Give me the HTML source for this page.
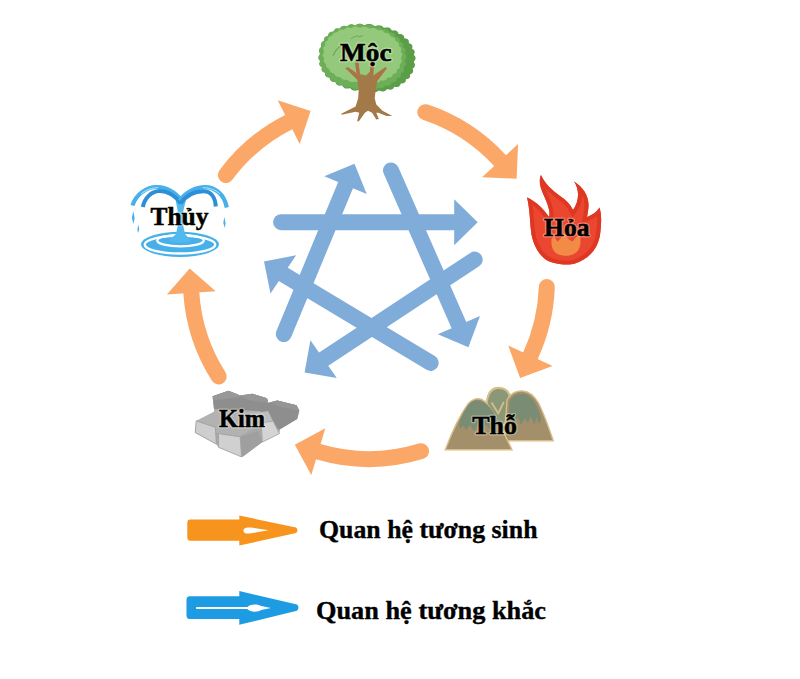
<!DOCTYPE html>
<html><head><meta charset="utf-8"><style>
html,body{margin:0;padding:0;background:#fff;}
body{width:800px;height:679px;overflow:hidden;}
svg{display:block;}
.lbl{font-family:"Liberation Serif",serif;font-weight:bold;fill:#000;stroke:#000;stroke-width:0.5px;}
.halo{font-family:"Liberation Serif",serif;font-weight:bold;fill:none;stroke:rgba(255,255,225,0.35);stroke-width:3px;stroke-linejoin:round;}
.leg{font-family:"Liberation Serif",serif;font-weight:bold;fill:#000;stroke:#000;stroke-width:0.35px;}
</style></head><body>
<svg width="800" height="679" viewBox="0 0 800 679">
<rect width="800" height="679" fill="#fff"/>
<path d="M225.9,175.0 A178.0,178.0 0 0 1 288.7,122.1" stroke="#FAA768" stroke-width="16" fill="none" stroke-linecap="round"/><polygon points="310.6,111.0 277.7,100.2 299.7,144.0" fill="#FAA768"/><path d="M425.3,112.2 A178.0,178.0 0 0 1 500.1,160.7" stroke="#FAA768" stroke-width="16" fill="none" stroke-linecap="round"/><polygon points="516.6,178.7 518.1,144.1 482.0,177.2" fill="#FAA768"/><path d="M546.8,287.0 A178.0,178.0 0 0 1 530.4,355.8" stroke="#FAA768" stroke-width="16" fill="none" stroke-linecap="round"/><polygon points="520.1,378.1 552.6,366.1 508.2,345.5" fill="#FAA768"/><path d="M421.1,451.2 A178.0,178.0 0 0 1 318.3,451.7" stroke="#FAA768" stroke-width="16" fill="none" stroke-linecap="round"/><polygon points="294.8,444.7 311.3,475.1 325.3,428.2" fill="#FAA768"/><path d="M218.7,376.5 A178.0,178.0 0 0 1 191.3,293.0" stroke="#FAA768" stroke-width="16" fill="none" stroke-linecap="round"/><polygon points="189.7,268.5 166.9,294.6 215.7,291.3" fill="#FAA768"/>
<line x1="281.1" y1="222.2" x2="456.2" y2="222.2" stroke="#80ACDA" stroke-width="16" stroke-linecap="round"/><polygon points="477.7,222.2 454.2,245.2 454.2,199.2" fill="#80ACDA"/><line x1="283.8" y1="334.0" x2="346.3" y2="183.4" stroke="#80ACDA" stroke-width="16" stroke-linecap="round"/><polygon points="354.5,163.8 366.7,194.1 324.3,176.3" fill="#80ACDA"/><line x1="391.0" y1="170.4" x2="459.7" y2="326.9" stroke="#80ACDA" stroke-width="16" stroke-linecap="round"/><polygon points="468.4,347.2 437.8,334.2 480.0,316.0" fill="#80ACDA"/><line x1="474.7" y1="259.6" x2="322.0" y2="360.2" stroke="#80ACDA" stroke-width="16" stroke-linecap="round"/><polygon points="304.6,372.4 310.4,340.3 336.8,377.9" fill="#80ACDA"/><line x1="430.7" y1="362.9" x2="281.6" y2="273.3" stroke="#80ACDA" stroke-width="16" stroke-linecap="round"/><polygon points="264.0,261.4 296.1,255.3 270.5,293.5" fill="#80ACDA"/>
<path d="M413.8,61.8 L414.4,62.9 L414.8,63.9 L415.0,64.9 L414.9,65.8 L414.6,66.6 L414.1,67.4 L413.4,68.0 L412.6,68.6 L412.9,69.6 L413.1,70.5 L413.1,71.4 L412.9,72.2 L412.5,72.9 L411.8,73.5 L410.9,74.0 L409.9,74.4 L410.1,75.3 L410.1,76.3 L409.9,77.1 L409.5,77.8 L408.9,78.4 L408.0,78.8 L407.0,79.1 L406.0,79.3 L405.9,80.3 L405.7,81.2 L405.3,82.0 L404.7,82.6 L404.0,83.1 L403.0,83.3 L401.9,83.5 L400.8,83.5 L400.5,84.4 L400.0,85.3 L399.5,86.0 L398.8,86.5 L397.9,86.9 L396.8,87.0 L395.7,86.9 L394.4,86.8 L393.9,87.6 L393.3,88.4 L392.6,89.1 L391.7,89.5 L390.7,89.7 L389.5,89.6 L388.4,89.4 L387.1,89.1 L386.4,89.9 L385.6,90.6 L384.7,91.1 L383.6,91.4 L382.5,91.5 L381.4,91.3 L380.1,90.9 L378.9,90.4 L378.0,91.1 L376.9,91.7 L375.9,92.1 L374.7,92.3 L373.5,92.2 L372.3,91.9 L371.0,91.3 L369.8,90.7 L368.5,91.3 L367.2,91.7 L365.9,92.0 L364.3,92.0 L362.7,91.7 L361.4,91.3 L360.2,90.6 L359.0,89.8 L357.7,90.3 L356.4,90.6 L355.1,90.7 L353.9,90.6 L352.8,90.3 L351.8,89.7 L350.9,89.0 L350.1,88.1 L348.8,88.4 L347.5,88.6 L346.3,88.6 L345.2,88.4 L344.3,87.9 L343.5,87.2 L342.8,86.4 L342.2,85.5 L340.9,85.6 L339.7,85.7 L338.6,85.5 L337.6,85.2 L336.8,84.6 L336.2,83.9 L335.7,83.0 L335.3,82.0 L334.1,82.0 L333.0,81.9 L331.9,81.6 L331.1,81.1 L330.5,80.5 L330.0,79.7 L329.8,78.7 L329.6,77.8 L328.5,77.6 L327.4,77.3 L326.5,76.9 L325.8,76.3 L325.4,75.6 L325.1,74.7 L325.1,73.8 L325.1,72.8 L324.1,72.5 L323.2,72.0 L322.4,71.5 L321.9,70.8 L321.6,70.0 L321.6,69.2 L321.7,68.2 L322.0,67.3 L321.1,66.8 L320.3,66.2 L319.7,65.5 L319.4,64.7 L319.3,63.9 L319.5,63.0 L319.8,62.1 L320.3,61.2 L319.6,60.5 L319.0,59.7 L318.6,58.9 L318.4,58.0 L318.5,57.1 L318.9,56.2 L319.5,55.3 L320.2,54.2 L319.6,53.1 L319.2,52.1 L319.0,51.1 L319.1,50.2 L319.4,49.4 L319.9,48.6 L320.6,48.0 L321.4,47.4 L321.1,46.4 L320.9,45.5 L320.9,44.6 L321.1,43.8 L321.5,43.1 L322.2,42.5 L323.1,42.0 L324.1,41.6 L323.9,40.7 L323.9,39.7 L324.1,38.9 L324.5,38.2 L325.1,37.6 L326.0,37.2 L327.0,36.9 L328.0,36.7 L328.1,35.7 L328.3,34.8 L328.7,34.0 L329.3,33.4 L330.0,32.9 L331.0,32.7 L332.1,32.5 L333.2,32.5 L333.5,31.6 L334.0,30.7 L334.5,30.0 L335.2,29.5 L336.1,29.1 L337.2,29.0 L338.3,29.1 L339.6,29.2 L340.1,28.4 L340.7,27.6 L341.4,26.9 L342.3,26.5 L343.3,26.3 L344.5,26.4 L345.6,26.6 L346.9,26.9 L347.6,26.1 L348.4,25.4 L349.3,24.9 L350.4,24.6 L351.5,24.5 L352.6,24.7 L353.9,25.1 L355.1,25.6 L356.0,24.9 L357.1,24.3 L358.1,23.9 L359.3,23.7 L360.5,23.8 L361.7,24.1 L363.0,24.7 L364.2,25.3 L365.5,24.7 L366.8,24.3 L368.1,24.0 L369.7,24.0 L371.3,24.3 L372.6,24.7 L373.8,25.4 L375.0,26.2 L376.3,25.7 L377.6,25.4 L378.9,25.3 L380.1,25.4 L381.2,25.7 L382.2,26.3 L383.1,27.0 L383.9,27.9 L385.2,27.6 L386.5,27.4 L387.7,27.4 L388.8,27.6 L389.7,28.1 L390.5,28.8 L391.2,29.6 L391.8,30.5 L393.1,30.4 L394.3,30.3 L395.4,30.5 L396.4,30.8 L397.2,31.4 L397.8,32.1 L398.3,33.0 L398.7,34.0 L399.9,34.0 L401.0,34.1 L402.1,34.4 L402.9,34.9 L403.5,35.5 L404.0,36.3 L404.2,37.3 L404.4,38.2 L405.5,38.4 L406.6,38.7 L407.5,39.1 L408.2,39.7 L408.6,40.4 L408.9,41.3 L408.9,42.2 L408.9,43.2 L409.9,43.5 L410.8,44.0 L411.6,44.5 L412.1,45.2 L412.4,46.0 L412.4,46.8 L412.3,47.8 L412.0,48.7 L412.9,49.2 L413.7,49.8 L414.3,50.5 L414.6,51.3 L414.7,52.1 L414.5,53.0 L414.2,53.9 L413.7,54.8 L414.4,55.5 L415.0,56.3 L415.4,57.1 L415.6,58.0 L415.5,58.9 L415.1,59.8 L414.5,60.7 L413.8,61.8Z" fill="#5C9D47"/><path d="M404.9,60.4 L405.3,61.5 L405.7,62.6 L405.9,63.6 L405.8,64.5 L405.6,65.3 L405.0,66.1 L404.3,66.8 L403.6,67.4 L403.8,68.4 L404.0,69.4 L404.0,70.3 L403.8,71.1 L403.3,71.8 L402.6,72.4 L401.8,72.9 L400.9,73.3 L400.9,74.2 L400.9,75.2 L400.7,76.0 L400.3,76.7 L399.7,77.3 L398.8,77.8 L397.9,78.1 L396.8,78.3 L396.7,79.2 L396.5,80.1 L396.1,80.9 L395.5,81.5 L394.7,82.0 L393.8,82.3 L392.7,82.4 L391.6,82.4 L391.2,83.3 L390.8,84.1 L390.2,84.8 L389.4,85.4 L388.5,85.7 L387.5,85.8 L386.4,85.7 L385.2,85.5 L384.6,86.4 L384.0,87.1 L383.2,87.7 L382.3,88.1 L381.3,88.3 L380.2,88.2 L379.0,88.0 L377.8,87.6 L377.1,88.4 L376.2,89.0 L375.2,89.5 L374.2,89.7 L373.1,89.8 L372.0,89.5 L370.8,89.1 L369.6,88.6 L368.6,89.2 L367.5,89.7 L366.4,90.1 L365.2,90.2 L364.0,90.0 L362.7,89.6 L361.4,89.1 L360.0,88.4 L358.5,88.8 L357.1,89.2 L355.8,89.4 L354.6,89.3 L353.4,89.0 L352.3,88.5 L351.4,87.9 L350.4,87.1 L349.2,87.4 L348.0,87.6 L346.8,87.6 L345.7,87.5 L344.7,87.1 L343.9,86.4 L343.1,85.7 L342.5,84.8 L341.2,85.0 L340.1,85.0 L339.0,84.9 L338.0,84.6 L337.2,84.0 L336.5,83.3 L336.0,82.5 L335.5,81.6 L334.4,81.5 L333.3,81.4 L332.3,81.2 L331.4,80.7 L330.8,80.1 L330.3,79.3 L330.0,78.4 L329.7,77.4 L328.6,77.2 L327.6,76.9 L326.7,76.5 L326.0,76.0 L325.6,75.3 L325.3,74.4 L325.2,73.5 L325.2,72.5 L324.2,72.2 L323.3,71.7 L322.6,71.1 L322.0,70.5 L321.8,69.7 L321.7,68.8 L321.8,67.9 L322.0,67.0 L321.2,66.4 L320.4,65.8 L319.9,65.1 L319.5,64.3 L319.4,63.5 L319.5,62.6 L319.9,61.7 L320.3,60.8 L319.6,60.0 L319.1,59.2 L318.7,58.4 L318.5,57.5 L318.6,56.6 L319.0,55.6 L319.5,54.7 L320.1,53.6 L319.7,52.5 L319.3,51.4 L319.1,50.4 L319.2,49.5 L319.4,48.7 L320.0,47.9 L320.7,47.2 L321.4,46.6 L321.2,45.6 L321.0,44.6 L321.0,43.7 L321.2,42.9 L321.7,42.2 L322.4,41.6 L323.2,41.1 L324.1,40.7 L324.1,39.8 L324.1,38.8 L324.3,38.0 L324.7,37.3 L325.3,36.7 L326.2,36.2 L327.1,35.9 L328.2,35.7 L328.3,34.8 L328.5,33.9 L328.9,33.1 L329.5,32.5 L330.3,32.0 L331.2,31.7 L332.3,31.6 L333.4,31.6 L333.8,30.7 L334.2,29.9 L334.8,29.2 L335.6,28.6 L336.5,28.3 L337.5,28.2 L338.6,28.3 L339.8,28.5 L340.4,27.6 L341.0,26.9 L341.8,26.3 L342.7,25.9 L343.7,25.7 L344.8,25.8 L346.0,26.0 L347.2,26.4 L347.9,25.6 L348.8,25.0 L349.8,24.5 L350.8,24.3 L351.9,24.2 L353.0,24.5 L354.2,24.9 L355.4,25.4 L356.4,24.8 L357.5,24.3 L358.6,23.9 L359.8,23.8 L361.0,24.0 L362.3,24.4 L363.6,24.9 L365.0,25.6 L366.5,25.2 L367.9,24.8 L369.2,24.6 L370.4,24.7 L371.6,25.0 L372.7,25.5 L373.6,26.1 L374.6,26.9 L375.8,26.6 L377.0,26.4 L378.2,26.4 L379.3,26.5 L380.3,26.9 L381.1,27.6 L381.9,28.3 L382.5,29.2 L383.8,29.0 L384.9,29.0 L386.0,29.1 L387.0,29.4 L387.8,30.0 L388.5,30.7 L389.0,31.5 L389.5,32.4 L390.6,32.5 L391.7,32.6 L392.7,32.8 L393.6,33.3 L394.2,33.9 L394.7,34.7 L395.0,35.6 L395.3,36.6 L396.4,36.8 L397.4,37.1 L398.3,37.5 L399.0,38.0 L399.4,38.7 L399.7,39.6 L399.8,40.5 L399.8,41.5 L400.8,41.8 L401.7,42.3 L402.4,42.9 L403.0,43.5 L403.2,44.3 L403.3,45.2 L403.2,46.1 L403.0,47.0 L403.8,47.6 L404.6,48.2 L405.1,48.9 L405.5,49.7 L405.6,50.5 L405.5,51.4 L405.1,52.3 L404.7,53.2 L405.4,54.0 L405.9,54.8 L406.3,55.6 L406.5,56.5 L406.4,57.4 L406.0,58.4 L405.5,59.3 L404.9,60.4Z" fill="#6DAE58"/><path d="M400.9,58.1 L401.3,59.1 L401.6,60.1 L401.7,60.9 L401.7,61.8 L401.4,62.6 L400.9,63.3 L400.3,63.9 L399.6,64.5 L399.8,65.3 L399.9,66.2 L399.9,67.0 L399.6,67.7 L399.2,68.4 L398.5,68.9 L397.8,69.3 L396.9,69.7 L396.9,70.6 L396.8,71.4 L396.5,72.2 L396.1,72.8 L395.5,73.3 L394.7,73.7 L393.8,74.0 L392.8,74.1 L392.6,75.0 L392.3,75.8 L391.8,76.5 L391.2,77.0 L390.5,77.4 L389.5,77.6 L388.5,77.7 L387.5,77.7 L387.0,78.5 L386.5,79.2 L385.9,79.8 L385.1,80.2 L384.2,80.5 L383.2,80.5 L382.1,80.4 L381.0,80.3 L380.4,81.0 L379.7,81.6 L378.8,82.1 L377.9,82.4 L376.9,82.5 L375.9,82.4 L374.8,82.1 L373.6,81.8 L372.8,82.4 L371.8,82.9 L370.8,83.2 L369.8,83.4 L368.7,83.4 L367.6,83.1 L366.4,82.7 L365.3,82.2 L364.2,82.6 L363.0,83.0 L361.7,83.2 L360.2,83.2 L358.8,83.0 L357.6,82.6 L356.5,82.0 L355.4,81.4 L354.2,81.7 L353.0,81.9 L351.9,82.0 L350.8,81.9 L349.8,81.6 L348.8,81.0 L348.0,80.4 L347.2,79.7 L346.1,79.8 L344.9,79.9 L343.9,79.8 L342.9,79.6 L342.1,79.1 L341.3,78.5 L340.7,77.8 L340.2,77.0 L339.1,77.0 L338.0,76.9 L337.0,76.7 L336.2,76.3 L335.5,75.8 L334.9,75.1 L334.5,74.3 L334.2,73.4 L333.2,73.3 L332.2,73.0 L331.3,72.6 L330.6,72.1 L330.1,71.5 L329.8,70.8 L329.6,69.9 L329.5,69.1 L328.6,68.7 L327.7,68.3 L327.0,67.8 L326.5,67.2 L326.2,66.5 L326.0,65.7 L326.1,64.9 L326.2,64.0 L325.4,63.5 L324.7,63.0 L324.2,62.4 L323.8,61.7 L323.7,60.9 L323.8,60.1 L324.0,59.3 L324.4,58.4 L323.8,57.8 L323.2,57.0 L322.9,56.3 L322.7,55.5 L322.8,54.6 L323.1,53.8 L323.6,52.9 L324.1,51.9 L323.7,50.9 L323.4,49.9 L323.3,49.1 L323.3,48.2 L323.6,47.4 L324.1,46.7 L324.7,46.1 L325.4,45.5 L325.2,44.7 L325.1,43.8 L325.1,43.0 L325.4,42.3 L325.8,41.6 L326.5,41.1 L327.2,40.7 L328.1,40.3 L328.1,39.4 L328.2,38.6 L328.5,37.8 L328.9,37.2 L329.5,36.7 L330.3,36.3 L331.2,36.0 L332.2,35.9 L332.4,35.0 L332.7,34.2 L333.2,33.5 L333.8,33.0 L334.5,32.6 L335.5,32.4 L336.5,32.3 L337.5,32.3 L338.0,31.5 L338.5,30.8 L339.1,30.2 L339.9,29.8 L340.8,29.5 L341.8,29.5 L342.9,29.6 L344.0,29.7 L344.6,29.0 L345.3,28.4 L346.2,27.9 L347.1,27.6 L348.1,27.5 L349.1,27.6 L350.2,27.9 L351.4,28.2 L352.2,27.6 L353.2,27.1 L354.2,26.8 L355.2,26.6 L356.3,26.6 L357.4,26.9 L358.6,27.3 L359.7,27.8 L360.8,27.4 L362.0,27.0 L363.3,26.8 L364.8,26.8 L366.2,27.0 L367.4,27.4 L368.5,28.0 L369.6,28.6 L370.8,28.3 L372.0,28.1 L373.1,28.0 L374.2,28.1 L375.2,28.4 L376.2,29.0 L377.0,29.6 L377.8,30.3 L378.9,30.2 L380.1,30.1 L381.1,30.2 L382.1,30.4 L382.9,30.9 L383.7,31.5 L384.3,32.2 L384.8,33.0 L385.9,33.0 L387.0,33.1 L388.0,33.3 L388.8,33.7 L389.5,34.2 L390.1,34.9 L390.5,35.7 L390.8,36.6 L391.8,36.7 L392.8,37.0 L393.7,37.4 L394.4,37.9 L394.9,38.5 L395.2,39.2 L395.4,40.1 L395.5,40.9 L396.4,41.3 L397.3,41.7 L398.0,42.2 L398.5,42.8 L398.8,43.5 L399.0,44.3 L398.9,45.1 L398.8,46.0 L399.6,46.5 L400.3,47.0 L400.8,47.6 L401.2,48.3 L401.3,49.1 L401.2,49.9 L401.0,50.7 L400.6,51.6 L401.2,52.2 L401.8,53.0 L402.1,53.7 L402.3,54.5 L402.2,55.4 L401.9,56.2 L401.4,57.1 L400.9,58.1Z" fill="#94C97C"/><path d="M333.2,55.7 C335,51 337.5,48 340.8,45.8" stroke="#5E8E48" stroke-width="0.9" fill="none"/><path d="M350.9,38.6 L356.8,35.7 L359.2,36.9 L362.7,35.7" stroke="#6E9E58" stroke-width="0.9" fill="none"/><path d="M345.3,67.9 L348.4,67.4 L358.7,75.1 L355.1,62.7 L358.5,62.7 L359.8,74.1 L366,75.6 L370,71.5 L370.6,65.3 L373.7,65.3 L373.2,75.6 L385.6,66.9 L386.6,68.4 L377.3,80.8 L375.8,89 L374.7,98.3 L376.3,104.5 L382.5,110.7 L392.3,115.9 L386.6,115.9 L378.3,112.8 L376.3,112.8 L378.9,119 L376.3,119.5 L372.1,112.8 L368,110.7 L364.9,112.8 L358.7,121.5 L357.2,121 L359.2,112.8 L355.6,111.7 L341.7,114.8 L341.2,113.8 L355.6,106.6 L358.2,98.3 L358.7,89 L357.2,79.8 Z" fill="#A27947"/><path d="M345.3,67.9 L348.4,67.4 L358.7,75.1 L357.5,78.5 Z" fill="#B0704A"/><path d="M355.1,62.7 L358.5,62.7 L359.8,74.1 L356.5,74 Z" fill="#B0704A"/><path d="M370.6,65.3 L373.7,65.3 L373.2,75 L370,72 Z" fill="#B0704A"/><path d="M385.6,66.9 L386.6,68.4 L377.3,80.8 L375.5,77 Z" fill="#B0704A"/><defs><clipPath id="fc"><path d="M527,197.5 C533,200 541,206 546,213 L549,217 C552,208 541,193 540,184 C539.5,180 540,177 541,175 C545,184 552,190 560,196 C566,200 570,204 573,210 C579,202 580,190 574,181.5 C583,187 589,196 588.5,206 C588.3,211 587.5,214 587,217 C592,215 597,212 599.5,207.5 C601.5,214 601.5,222 600.5,231 C599,248 590,258 575,263.6 C567,266 553,264 545.6,259.5 C538,254 532,242 531,230.8 C530,222 530,214 528,202 C527.7,200 527.3,199 527,197.5 Z"/></clipPath></defs><path d="M527,197.5 C533,200 541,206 546,213 L549,217 C552,208 541,193 540,184 C539.5,180 540,177 541,175 C545,184 552,190 560,196 C566,200 570,204 573,210 C579,202 580,190 574,181.5 C583,187 589,196 588.5,206 C588.3,211 587.5,214 587,217 C592,215 597,212 599.5,207.5 C601.5,214 601.5,222 600.5,231 C599,248 590,258 575,263.6 C567,266 553,264 545.6,259.5 C538,254 532,242 531,230.8 C530,222 530,214 528,202 C527.7,200 527.3,199 527,197.5 Z" fill="#EA4630"/><path d="M527,197.5 C533,200 541,206 546,213 L549,217 C552,208 541,193 540,184 C539.5,180 540,177 541,175 C545,184 552,190 560,196 C566,200 570,204 573,210 C579,202 580,190 574,181.5 C583,187 589,196 588.5,206 C588.3,211 587.5,214 587,217 C592,215 597,212 599.5,207.5 C601.5,214 601.5,222 600.5,231 C599,248 590,258 575,263.6 C567,266 553,264 545.6,259.5 C538,254 532,242 531,230.8 C530,222 530,214 528,202 C527.7,200 527.3,199 527,197.5 Z" fill="none" stroke="#DE3823" stroke-width="8" clip-path="url(#fc)"/><path d="M551.5,239 L554,236.5 L557.5,241.5 L561,238 L565,235 L569,239.5 L572.5,241.5 L576,237 L580,235.5 C582,246 579,255.5 566,255.8 C555.5,255.8 550.5,250 551.5,239 Z" fill="#F38A45"/><path d="M486,420 L498,388 L512,396 L505,440 Z" fill="#A38F69"/><path d="M486.5,404 C487.5,393 492,387.8 498.5,387.8 C505,387.8 509.5,392 510.5,398 L505,425 L490,425 Z" fill="#8A9878" stroke="#D6BE8A" stroke-width="2.2"/><path d="M491.5,402.5 L498.3,413.5 L503.8,402" stroke="#D6BE8A" stroke-width="1.8" fill="none"/><path d="M504.5,440.8 L507,400 C511,393 516,390.5 522.5,391 C530,391.5 535,397 538.5,403 C543,412 548,425 553.3,440.8 Z" fill="#A38F69" stroke="#D6BE8A" stroke-width="1.4"/><path d="M509.5,401 C513,395.5 517,393.8 522.5,394 C529,394.5 533,399 536,405 C539,411 541,416 541,420 L539,424 L537,417 L534,425 L531,416 L528,423 L525,418 L521,425 L518,417 L514,424 L511,419 L508.5,423 Z" fill="#7B8C75"/><path d="M445.3,449.8 C452,432 460,415 468,404 C472,399.5 475,398.7 478,398.7 C482,398.7 486,401 490,408 C498,420 505,435 512,449.8 Z" fill="#A38F69" stroke="#D6BE8A" stroke-width="1.4"/><path d="M459,424 C462,414 467,405 472,401.5 C476,399.8 482,400.3 487,404.5 C492,409 496,416 499,423 L497,427 L493,422 L490,430 L486,424 L482,431 L478,425 L474,431 L470,425 L466,430 L463,425 L460,429 Z" fill="#7B8C75"/><path d="M212.6,396.3 L228.4,390.8 L237.4,394.2 L240,395.5 L252.5,393.8 L267,398.3 L268.3,403 L269.5,402.4 L277.3,400.4 L296.5,405.2 L299.3,410.7 L297.2,419 L280,429.3 L279.4,433.6 L262.4,442.1 L242.3,456.9 L218.5,447.3 L216.4,444.2 L195.2,432.5 L196.2,420.9 L214.3,411.8 Z" fill="#A8A8A8"/><path d="M212.6,396.3 L228.4,390.8 L237.4,394.2 L240,395.5 L252.5,393.8 L267,398.3 L268.3,403 L269.5,402.4 L277.3,400.4 L296.5,405.2 L299.3,410.7 L297.2,419 L280,429.3 L260,425 L240,418 L214,409 Z" fill="#8E8E8E"/><path d="M212.6,396.3 L228.4,390.8 L237.4,394.2 L240,397 L226,399 L213,400 Z" fill="#989898"/><path d="M240,395.5 L252.5,393.8 L267,398.3 L268.3,403 L248,400 Z" fill="#969696"/><path d="M269.5,402.4 L277.3,400.4 L296.5,405.2 L299.3,410.7 L280,407 Z" fill="#959595"/><path d="M214,409 L260.3,411.3 L268,420 L262,424 L240,436 L218,433 L196.2,420.9 L214.3,411.8 Z" fill="#B2B2B2"/><path d="M196.2,420.9 L215.3,427.2 L216.4,444.2 L195.2,432.5 Z" fill="#CECECE" stroke="#9C9C9C" stroke-width="0.8"/><path d="M250,414 L268,411 L273,420.9 L261.4,423 Z" fill="#BDBDBD"/><path d="M261.4,423 L273,420.9 L279.4,433.6 L262.4,442.1 Z" fill="#D4D4D4" stroke="#A6A6A6" stroke-width="0.8"/><path d="M240.2,436.8 L258,431 L262.4,442.1 L242.3,456.9 Z" fill="#9F9F9F"/><path d="M218.5,433.6 L240.2,436.8 L241.5,456.9 L218.5,447.3 Z" fill="#D0D0D0" stroke="#A0A0A0" stroke-width="0.8"/><ellipse cx="180" cy="244.3" rx="39" ry="12.6" fill="#47B0EB"/><ellipse cx="180" cy="244.6" rx="35.3" ry="8.9" fill="none" stroke="#fff" stroke-width="2.3"/><ellipse cx="180.5" cy="240.6" rx="23.3" ry="5.8" fill="none" stroke="#fff" stroke-width="2.3"/><path d="M175.5,199.5 L186,199.5 L183.3,211 L183.3,226 L185,234 L191,240.5 C186,243.5 175,243.5 169,240.5 L176,234 L177.7,226 L177.7,211 Z" fill="#52B9EF"/><path d="M132.5,205.5 C136,194 147,186.8 157,187 C167,187.3 176,193 181.8,200.8" stroke="#47B0EB" stroke-width="4.2" fill="none"/><path d="M142.8,207 C144.5,198.5 151,191.3 159.5,191.1 C167.5,191 175.5,196.3 181,203.5" stroke="#2D8FD7" stroke-width="4" fill="none"/><path d="M179.5,200.8 C186,192 196,187.2 205,187.2 C214,187.2 224,193 226.8,207.5" stroke="#47B0EB" stroke-width="4.2" fill="none"/><path d="M180.5,203.5 C186.5,195.3 194.5,191.3 203.5,191.3 C211,191.3 215.2,197.5 215.8,206.5" stroke="#2D8FD7" stroke-width="4" fill="none"/><path d="M141,194 C146,189.5 152,187.8 158,187.6" stroke="#BFE6FA" stroke-width="0.9" fill="none"/><path d="M203,187.6 C210,187.8 216,190 220,194" stroke="#BFE6FA" stroke-width="0.9" fill="none"/><path d="M133.3,211 L134.6,218 L133.5,224 L131.8,218 Z" fill="#47B0EB"/><path d="M138.5,224.5 L139.2,230 L138,233 L137.4,229 Z" fill="#47B0EB"/><path d="M224.3,217 L225.6,223 L224.8,228 L223.3,223 Z" fill="#47B0EB"/>
<text x="340" y="60.8" font-size="24.6" textLength="51.5" lengthAdjust="spacingAndGlyphs" class="halo">Mộc</text><text x="340" y="60.8" font-size="24.6" textLength="51.5" lengthAdjust="spacingAndGlyphs" class="lbl">Mộc</text><text x="544" y="235.5" font-size="24.6" textLength="45.5" lengthAdjust="spacingAndGlyphs" class="halo">Hỏa</text><text x="544" y="235.5" font-size="24.6" textLength="45.5" lengthAdjust="spacingAndGlyphs" class="lbl">Hỏa</text><text x="472.3" y="434" font-size="24.6" textLength="44.7" lengthAdjust="spacingAndGlyphs" class="halo">Thỗ</text><text x="472.3" y="434" font-size="24.6" textLength="44.7" lengthAdjust="spacingAndGlyphs" class="lbl">Thỗ</text><text x="219" y="427" font-size="24.6" textLength="46" lengthAdjust="spacingAndGlyphs" class="halo">Kim</text><text x="219" y="427" font-size="24.6" textLength="46" lengthAdjust="spacingAndGlyphs" class="lbl">Kim</text><text x="150.5" y="225.2" font-size="24.6" textLength="58" lengthAdjust="spacingAndGlyphs" class="halo">Thủy</text><text x="150.5" y="225.2" font-size="24.6" textLength="58" lengthAdjust="spacingAndGlyphs" class="lbl">Thủy</text>
<path d="M190,519.6 L239.3,519.6 L239.3,515.6 L296,527.5 Q299,530.2 296,533 L239.3,545.6 L239.3,540.7 L190,540.7 Q187.3,540.7 187.3,537 L187.3,523 Q187.3,519.6 190,519.6 Z" fill="#F7941E"/><path d="M243.4,530.5 C243.4,527.5 247,527 251,527.6 L268.6,530.3 L251,533.3 C247,534 243.4,533.5 243.4,530.5 Z" fill="#fff"/><path d="M189.5,596.2 L239.3,596.2 L239.3,591 L297,604.5 Q300,607.6 297,610.7 L239.3,624.7 L239.3,619 L189.5,619 Q186.5,619 186.5,615 L186.5,600 Q186.5,596.2 189.5,596.2 Z" fill="#1E9CE3"/><rect x="196.2" y="607" width="52" height="2" fill="#fff"/><path d="M246.6,608 C249,603.6 258,603.6 261.2,606 L271,608 L261.2,610 C258,612.5 249,612.5 246.6,608 Z" fill="#fff"/><text x="319" y="537.8" class="leg" font-size="25.8" textLength="218.5" lengthAdjust="spacingAndGlyphs">Quan hệ tương sinh</text><text x="316" y="619.3" class="leg" font-size="25.8" textLength="230" lengthAdjust="spacingAndGlyphs">Quan hệ tương khắc</text>
</svg>
</body></html>
